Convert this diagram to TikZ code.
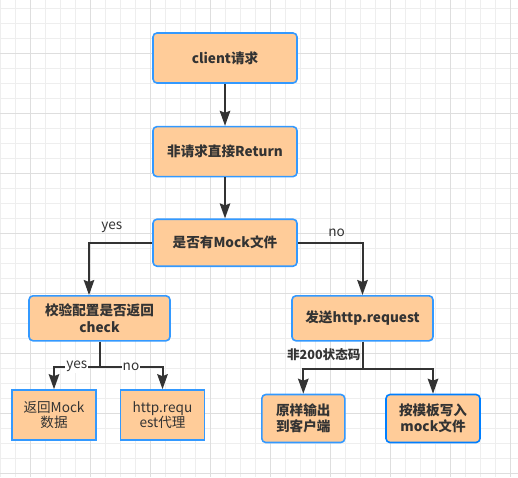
\documentclass[tikz,border=0pt]{standalone}
\usepackage{fontspec}
\setmainfont{Noto Sans CJK SC}
\usetikzlibrary{arrows.meta,positioning}
\definecolor{boxfill}{HTML}{FFCC99}
\definecolor{boxblue}{HTML}{3399FF}
\definecolor{deepblue}{HTML}{007FFF}
\definecolor{txt}{HTML}{333333}
\definecolor{gridminor}{HTML}{EEEEEE}
\definecolor{gridmajor}{HTML}{DEDEDE}

\begin{document}
\begin{tikzpicture}[
    x=1pt,y=-1pt,
    node distance=42pt,
    box/.style={draw=boxblue,fill=boxfill,line width=1.6pt,rounded corners=4pt,
                minimum width=144pt,minimum height=50pt,inner sep=2pt,align=center,
                text=txt,font=\bfseries\fontsize{13.6pt}{16.5pt}\selectfont},
    leaf/.style={box,sharp corners,minimum width=84pt,
                 font=\fontsize{13.6pt}{15.5pt}\selectfont},
    wire/.style={draw=txt,line width=2pt},
    arr/.style={wire,-{Stealth[width=10.5pt,length=15pt,inset=2pt]}},
    lbl/.style={text=txt,font=\fontsize{13.6pt}{15pt}\selectfont,inner sep=1pt}]
\useasboundingbox (0,0) rectangle (518,477);
\fill[white] (0,0) rectangle (518,477);
% background grid
\foreach \gx in {0,15,...,510}
    \draw[gridminor,line width=1pt] (\gx,0) -- (\gx,477);
\foreach \gy in {8,23,...,473}
    \draw[gridminor,line width=1pt] (0,\gy) -- (518,\gy);
\foreach \gx in {30,90,...,510}
    \draw[gridmajor,line width=1pt] (\gx,0) -- (\gx,477);
\foreach \gy in {53,113,...,473}
    \draw[gridmajor,line width=1pt] (0,\gy) -- (518,\gy);

% main chain
\node (client) [box] at (225,58) {client请求};
\node (ret)    [box,below=of client] {非请求直接Return};
\node (mock)   [box,below=41pt of ret,minimum height=47pt] {是否有Mock文件};
\node (check)  [box,minimum width=141pt,minimum height=45pt] at (99.5,318.3)
        {校验配置是否返回\\check};
\node (send)   [box,minimum width=141pt,minimum height=45pt] at (362.5,318.3)
        {发送http.request};
\node (mockdata) [leaf] at (54,415) {返回Mock\\数据};
\node (proxy)    [leaf] at (162.5,415) {http.requ\\est代理};
\node (raw)    [box,minimum width=83pt,minimum height=48pt] at (303.3,418.5)
        {原样输出\\到客户端};
\node (write)  [box,draw=deepblue,minimum width=94pt,minimum height=48pt] at (433,418.5)
        {按模板写入\\mock文件};

\draw[arr] (client) -- (ret);
\draw[arr] (ret) -- (mock);
\draw[arr] (mock.west) -| ([xshift=-10.5pt]check.north)
        node[lbl,pos=0.32,above=8pt] {yes};
\draw[arr] (mock.east) -| (send.north)
        node[lbl,pos=0.3,above=4pt] {no};
\draw[wire] (check.south) -- ++(0,25) coordinate (cj);
\draw[arr] (cj) -| (mockdata.north) node[lbl,fill=white,pos=0.25] {yes};
\draw[arr] (cj) -| (proxy.north) node[lbl,fill=white,pos=0.25] {no};
\draw[wire] (send.south) -- ++(0,27) coordinate (sj)
        node[lbl,midway,left,font=\bfseries\fontsize{12.6pt}{14pt}\selectfont] {非200状态码};
\draw[arr] (sj) -| (raw.north);
\draw[arr] (sj) -| (write.north);
\end{tikzpicture}
\end{document}
